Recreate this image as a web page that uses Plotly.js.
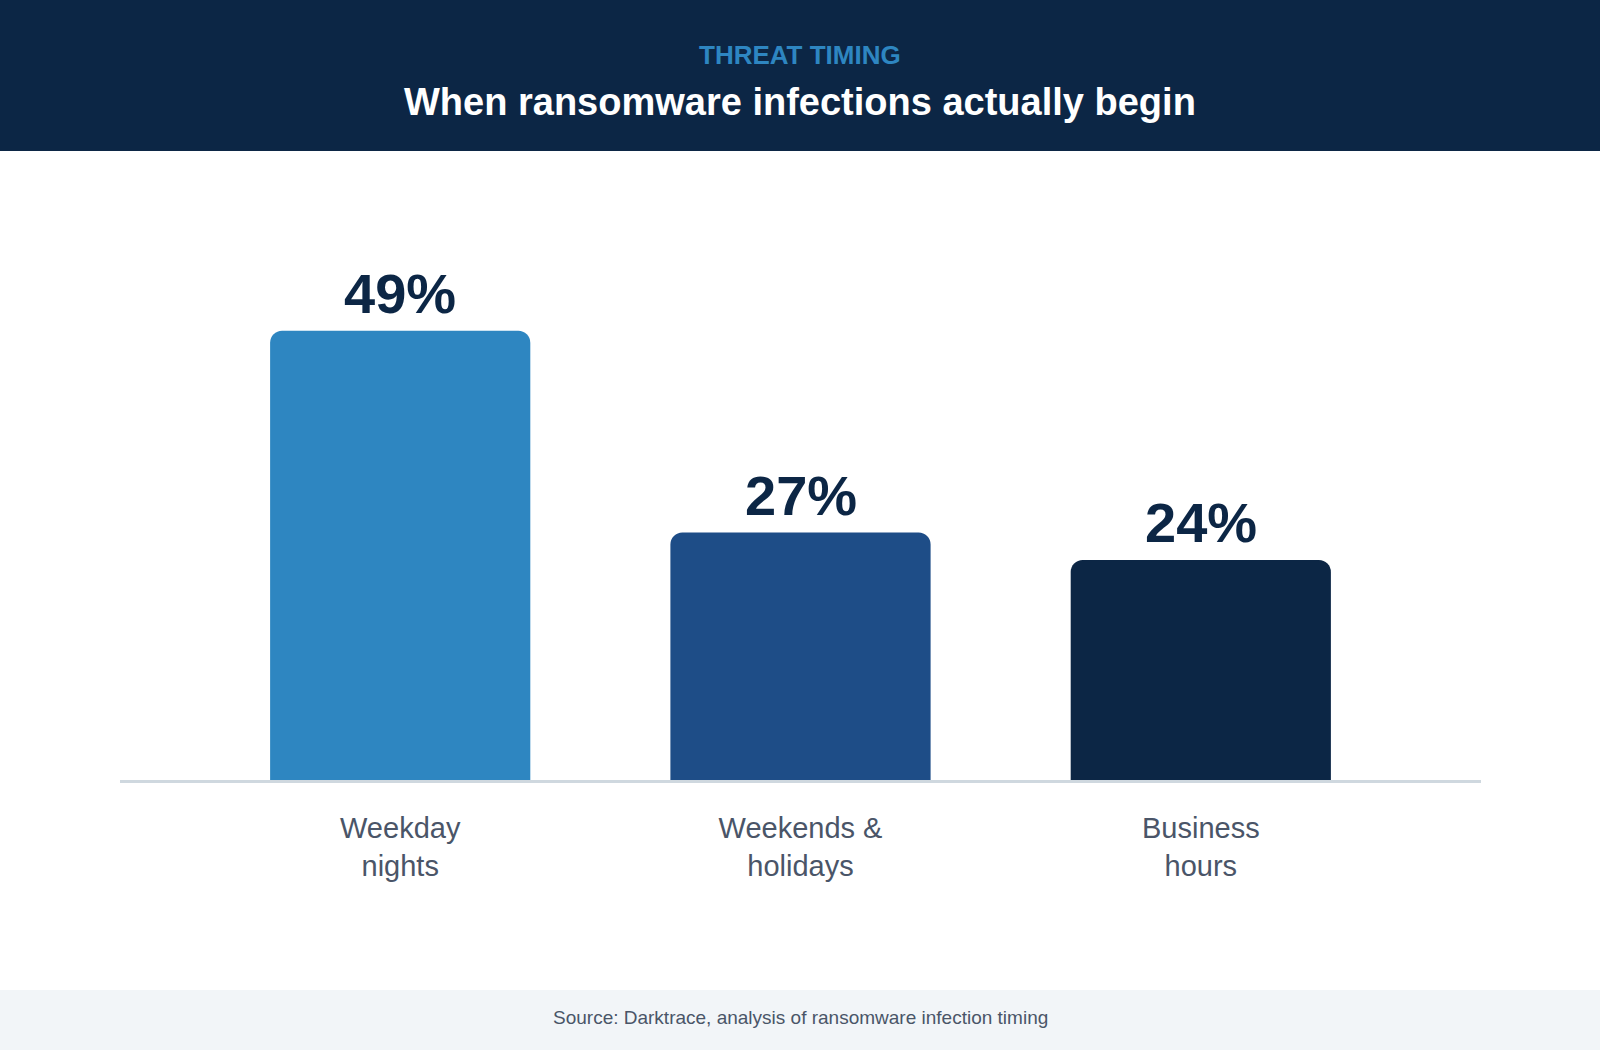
<!DOCTYPE html>
<html>
<head>
<meta charset="utf-8">
<script src="https://cdn.plot.ly/plotly-3.0.1.min.js"></script>
<style>
    html, body { margin: 0; padding: 0; background: #ffffff; }
    #chart { width: 1600px; height: 1050px; }
</style>
</head>
<body>
<div id="chart"></div>
<script>
let categories = ["Weekday<br>nights", "Weekends &<br>holidays", "Business<br>hours"]
let shares = [49, 27, 24]
let shareLabels = ["49%", "27%", "24%"]
let barColors = ["#2e86c1", "#1e4d87", "#0c2645"]

let W = 1600
let H = 1050

function drawChart() {
    let font = "Liberation Sans, Arial, sans-serif"

    let data = [{
        type: "bar",
        x: categories,
        y: shares,
        width: 0.65,
        marker: { color: barColors, line: { width: 0 } },
        hoverinfo: "skip"
    }]

    // value labels above the bars
    let annotations = []
    for (let i = 0; i < categories.length; i++) {
        annotations.push({
            x: categories[i],
            y: shares[i],
            xref: "x",
            yref: "y",
            text: "<b>" + shareLabels[i] + "</b>",
            showarrow: false,
            yanchor: "bottom",
            yshift: 4,
            font: { family: font, size: 56, color: "#0c2645" }
        })
    }

    // header and footer texts
    annotations.push({
        x: 0.5, y: 1 - 55 / H, xref: "paper", yref: "paper", yanchor: "middle",
        text: "<b>THREAT TIMING</b>", showarrow: false,
        font: { family: font, size: 26, color: "#2e86c1" }
    })
    annotations.push({
        x: 0.5, y: 1 - 102 / H, xref: "paper", yref: "paper", yanchor: "middle",
        text: "<b>When ransomware infections actually begin</b>", showarrow: false,
        font: { family: font, size: 38, color: "#ffffff" }
    })
    annotations.push({
        x: 0.5, y: 1 - 1017 / H, xref: "paper", yref: "paper", yanchor: "middle",
        text: "Source: Darktrace, analysis of ransomware infection timing", showarrow: false,
        font: { family: font, size: 19, color: "#4a5568" }
    })

    let layout = {
        width: W,
        height: H,
        margin: { l: 0, r: 0, t: 0, b: 0 },
        paper_bgcolor: "#ffffff",
        plot_bgcolor: "rgba(0,0,0,0)",
        showlegend: false,
        barcornerradius: 12,
        xaxis: {
            domain: [120 / W, 1481 / W],
            range: [-0.7, 2.7],
            showline: true,
            linecolor: "#cfd8df",
            linewidth: 3,
            layer: "below traces",
            ticks: "",
            ticklabelstandoff: 20,
            showgrid: false,
            zeroline: false,
            automargin: false,
            fixedrange: true,
            tickfont: { family: font, size: 29, color: "#4a5568" }
        },
        yaxis: {
            domain: [1 - 780 / H, 1 - 230 / H],
            range: [0, 60],
            visible: false,
            showgrid: false,
            zeroline: false,
            fixedrange: true
        },
        shapes: [
            {
                type: "rect", xref: "paper", yref: "paper", layer: "below",
                x0: 0, x1: 1, y0: 1 - 151 / H, y1: 1,
                fillcolor: "#0c2645", line: { width: 0 }
            },
            {
                type: "rect", xref: "paper", yref: "paper", layer: "below",
                x0: 0, x1: 1, y0: 0, y1: 60 / H,
                fillcolor: "#f2f5f8", line: { width: 0 }
            }
        ],
        annotations: annotations
    }

    Plotly.newPlot("chart", data, layout, { displayModeBar: false, staticPlot: true })
}

drawChart()
</script>
</body>
</html>
